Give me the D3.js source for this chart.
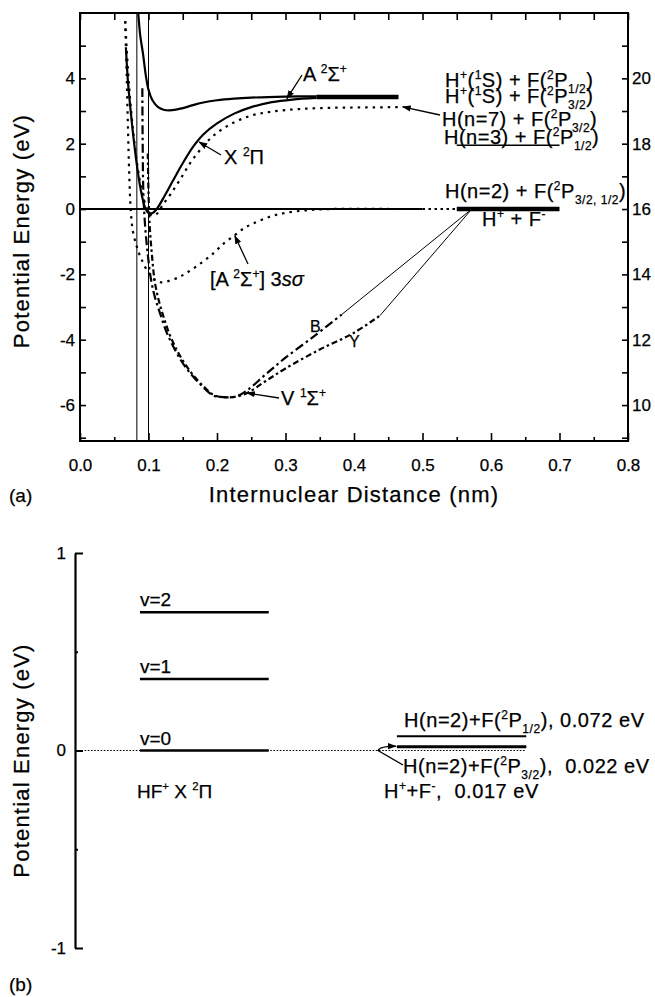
<!DOCTYPE html>
<html>
<head>
<meta charset="utf-8">
<script src="https://cdn.jsdelivr.net/npm/d3@7"></script>
<style>
  html, body { margin: 0; padding: 0; background: #fff; }
  svg { display: block; }
  text { font-family: "Liberation Sans", Arial, Helvetica, sans-serif; fill: #000; white-space: pre;
         stroke: #000; stroke-width: 0.25px; }
</style>
</head>
<body>
<svg id="fig" width="655" height="997"></svg>
<script>
// ---------- (a) potential energy curves of HF+ : [r (nm), E (eV)] ----------
const stateA2Sigma = [[0.085,6.0],[0.088,5.3],[0.092,4.75],[0.096,4.1],[0.1,3.65],[0.106,3.32],[0.114,3.12],[0.122,3.04],[0.13,3.02],[0.14,3.04],[0.15,3.09],[0.165,3.18],[0.18,3.26],[0.2,3.33],[0.225,3.38],[0.25,3.41],[0.3,3.44],[0.345,3.45]];
const stateX2Pi = [[0.067,4.95],[0.07,3.9],[0.074,3.0],[0.078,2.2],[0.084,1.2],[0.09,0.45],[0.095,0.05],[0.1,-0.12],[0.106,-0.12],[0.112,0.0],[0.124,0.42],[0.136,0.88],[0.15,1.4],[0.165,1.9],[0.18,2.28],[0.2,2.62],[0.225,2.92],[0.25,3.12],[0.28,3.27],[0.31,3.35],[0.345,3.4]];
const stateRydberg = [[0.066,5.75],[0.069,4.6],[0.073,3.4],[0.078,2.3],[0.084,1.3],[0.091,0.5],[0.098,0.0],[0.105,-0.2],[0.112,-0.15],[0.12,0.1],[0.132,0.45],[0.146,0.9],[0.16,1.38],[0.175,1.8],[0.195,2.25],[0.22,2.6],[0.25,2.86],[0.28,2.98],[0.32,3.06],[0.37,3.1],[0.42,3.11],[0.47,3.12]];
const state3sSigma = [[0.066,5.75],[0.068,4.2],[0.07,2.5],[0.072,1.0],[0.074,0.0],[0.077,-0.65],[0.083,-1.16],[0.09,-1.55],[0.1,-1.95],[0.108,-2.15],[0.117,-2.24],[0.13,-2.2],[0.145,-2.08],[0.156,-1.95],[0.175,-1.68],[0.195,-1.35],[0.21,-1.05],[0.226,-0.8],[0.24,-0.58],[0.253,-0.44],[0.275,-0.25],[0.297,-0.13],[0.33,-0.04],[0.365,0.0],[0.46,0.0]];
const stateV_B = [[0.091,3.7],[0.0915,2.0],[0.0925,0.5],[0.095,-0.5],[0.099,-1.4],[0.104,-2.2],[0.11,-2.75],[0.117,-3.2],[0.126,-3.75],[0.136,-4.2],[0.147,-4.62],[0.16,-5.0],[0.175,-5.35],[0.194,-5.7],[0.21,-5.76],[0.229,-5.73],[0.244,-5.55],[0.27,-5.08],[0.3,-4.55],[0.34,-3.92],[0.382,-3.23]];
const stateV_Y = [[0.099,1.7],[0.1,0.5],[0.102,-0.6],[0.105,-1.4],[0.109,-2.2],[0.115,-2.8],[0.122,-3.3],[0.131,-3.85],[0.141,-4.3],[0.152,-4.7],[0.165,-5.08],[0.18,-5.42],[0.196,-5.7],[0.21,-5.76],[0.229,-5.74],[0.245,-5.62],[0.27,-5.28],[0.3,-4.88],[0.35,-4.3],[0.399,-3.8],[0.438,-3.26]];
// straight continuations of B and Y to the H(n=2) + F / H+ + F- limit
const connectB = [[0.382,-3.23],[0.572,0.0]];
const connectY = [[0.438,-3.26],[0.572,0.0]];
// Franck-Condon region boundaries (nm)
const fcBounds = [0.083, 0.1];
// asymptote segments: [r start, r end, E]
const zeroSolid = [0.0, 0.50, 0.0];
const zeroDotted = [0.50, 0.55, 0.0];
const limitN2 = [0.55, 0.70, 0.0];
const limitN3 = [0.55, 0.70, 1.95];
const limitA = [0.345, 0.465, 3.43];

// axis ticks
const xTicks = [0,0.05,0.1,0.15,0.2,0.25,0.3,0.35,0.4,0.45,0.5,0.55,0.6,0.65,0.7,0.75,0.8];
const xTickLabels = ["0.0","0.1","0.2","0.3","0.4","0.5","0.6","0.7","0.8"];
const yTicks = [-7,-6,-5,-4,-3,-2,-1,0,1,2,3,4,5];
const yTickLabels = [-6,-4,-2,0,2,4];
const yRightTicks = [9,10,11,12,13,14,15,16,17,18,19,20,21];
const yRightTickLabels = [10,12,14,16,18,20];
const rightAxisOffset = 16; // eV, right axis = left axis + offset

// ---------- (b) levels near the HF+ X 2Pi v=0 ----------
const vibLevels = [["v=0",0.0],["v=1",0.362],["v=2",0.70]];
const limitLevels = [["H(n=2)+F(^{2}P_{1/2}), 0.072 eV",0.072],["H(n=2)+F(^{2}P_{3/2}),  0.022 eV",0.022],["H^{+}+F^{-},  0.017 eV",0.017]];
const bTicks = [-1,-0.5,0,0.5,1];
const bTickLabels = [-1,0,1];

// ================= drawing =================
const svg = d3.select("#fig");
const font = "Liberation Sans, Arial, Helvetica, sans-serif";

// arrowhead marker
svg.append("defs").append("marker")
  .attr("id","arrow").attr("viewBox","0 0 10 10").attr("refX",9).attr("refY",5)
  .attr("markerWidth",9).attr("markerHeight",9).attr("markerUnits","userSpaceOnUse")
  .attr("orient","auto")
  .append("path").attr("d","M0,1.5 L10,5 L0,8.5 Z").attr("fill","#000");

// text with ^{sup}, _{sub} and \i{italic} segments
function rich(sel, str, size) {
  const re = /(\^\{[^}]*\}|_\{[^}]*\}|\\i\{[^}]*\})/g;
  const parts = str.split(re).filter(s => s.length);
  let cur = 0;
  parts.forEach(p => {
    let kind = "n", t = p;
    if (p.startsWith("^{")) { kind = "sup"; t = p.slice(2,-1); }
    else if (p.startsWith("_{")) { kind = "sub"; t = p.slice(2,-1); }
    else if (p.startsWith("\\i{")) { kind = "it"; t = p.slice(3,-1); }
    const target = kind === "sup" ? -0.42*size : kind === "sub" ? 0.3*size : 0;
    const ts = sel.append("tspan").attr("dy", (target - cur).toFixed(2)).text(t);
    cur = target;
    if (kind === "sup" || kind === "sub") ts.attr("font-size", (size*0.6).toFixed(1));
    if (kind === "it") ts.attr("font-style","italic");
  });
  return sel;
}
function label(g, x, y, str, size, spacing) {
  const t = g.append("text").attr("x", x).attr("y", y).attr("font-size", size);
  if (spacing) t.attr("letter-spacing", spacing);
  return rich(t, str, size);
}

// ---------- panel (a) ----------
const A = { left: 80, right: 628, top: 13, bottom: 441 };
const x = d3.scaleLinear().domain([0, 0.8]).range([A.left, A.right]);
const y = d3.scaleLinear().domain([-7.1, 6.0]).range([A.bottom, A.top]);
const yR = d3.scaleLinear().domain([-7.1 + rightAxisOffset, 6.0 + rightAxisOffset]).range([A.bottom, A.top]);

const ga = svg.append("g");
const clip = svg.append("clipPath").attr("id","clipA");
clip.append("rect").attr("x",A.left).attr("y",A.top).attr("width",A.right-A.left).attr("height",A.bottom-A.top);

const plot = ga.append("g").attr("clip-path","url(#clipA)");
const line = d3.line().x(d => x(d[0])).y(d => y(d[1])).curve(d3.curveCatmullRom.alpha(0.5));
const straight = d3.line().x(d => x(d[0])).y(d => y(d[1]));

// Franck-Condon lines
plot.selectAll(".fc").data(fcBounds).join("line")
  .attr("x1", d => x(d)).attr("x2", d => x(d)).attr("y1", A.top).attr("y2", A.bottom)
  .attr("stroke","#000").attr("stroke-width",1);

// asymptotes
function seg(s, w, dash) {
  const p = plot.append("line").attr("x1", x(s[0])).attr("x2", x(s[1]))
    .attr("y1", y(s[2])).attr("y2", y(s[2])).attr("stroke","#000").attr("stroke-width", w);
  if (dash) p.attr("stroke-dasharray", dash);
  return p;
}
seg(zeroSolid, 2);
seg(zeroDotted, 2, "2.5,3.5");
seg(limitN2, 4.5);
seg(limitN3, 1.5);
seg(limitA, 4.5);

// curves
const curves = [
  { d: stateA2Sigma, w: 2.2, dash: null },
  { d: stateX2Pi, w: 2.2, dash: null },
  { d: stateRydberg, w: 2.2, dash: "2.5,5" },
  { d: state3sSigma, w: 2.2, dash: "2.5,5" },
  { d: stateV_B, w: 2.2, dash: "9,3.5,2.5,3.5" },
  { d: stateV_Y, w: 2.2, dash: "6,3,2.5,3" }
];
curves.forEach(c => {
  const p = plot.append("path").attr("d", line(c.d)).attr("fill","none")
    .attr("stroke","#000").attr("stroke-width", c.w).attr("stroke-linejoin","round");
  if (c.dash) p.attr("stroke-dasharray", c.dash);
});
[connectB, connectY].forEach(c => plot.append("path").attr("d", straight(c))
  .attr("fill","none").attr("stroke","#000").attr("stroke-width",1));

// frame
ga.append("rect").attr("x",A.left).attr("y",A.top).attr("width",A.right-A.left).attr("height",A.bottom-A.top)
  .attr("fill","none").attr("stroke","#000").attr("stroke-width",2);

// axes
function styleAxis(g, size) {
  g.select(".domain").remove();
  g.selectAll(".tick line").attr("stroke","#000").attr("stroke-width",1.6);
  g.selectAll("text").attr("font-size", size).attr("font-family", font).attr("fill","#000");
}
const major = v => Math.abs(Math.round(v*10) - v*10) < 1e-6;
const gxB = ga.append("g").attr("transform",`translate(0,${A.bottom})`)
  .call(d3.axisBottom(x).tickValues(xTicks).tickSizeInner(-8).tickSizeOuter(0).tickPadding(18)
    .tickFormat(d => { const i = xTickLabels.indexOf(d.toFixed(1)); return major(d) && i >= 0 ? xTickLabels[i] : ""; }));
styleAxis(gxB, 17);
gxB.selectAll(".tick line").attr("y2", d => major(d) ? -8 : -4);

const gxT = ga.append("g").attr("transform",`translate(0,${A.top})`)
  .call(d3.axisTop(x).tickValues(xTicks).tickSizeInner(-7).tickSizeOuter(0).tickFormat(""));
styleAxis(gxT, 17);

const gyL = ga.append("g").attr("transform",`translate(${A.left},0)`)
  .call(d3.axisLeft(y).tickValues(yTicks).tickSizeInner(-6).tickSizeOuter(0).tickPadding(5)
    .tickFormat(d => yTickLabels.includes(d) ? String(d) : ""));
styleAxis(gyL, 17);

const gyR = ga.append("g").attr("transform",`translate(${A.right},0)`)
  .call(d3.axisRight(yR).tickValues(yRightTicks).tickSizeInner(-6).tickSizeOuter(0).tickPadding(4)
    .tickFormat(d => yRightTickLabels.includes(d) ? String(d) : ""));
styleAxis(gyR, 17);

// axis titles
ga.append("text").attr("transform",`translate(29,${(y(-7.1)+y(6))/2 + 4}) rotate(-90)`)
  .attr("text-anchor","middle").attr("font-size",22).attr("letter-spacing",1.2).text("Potential Energy (eV)");
ga.append("text").attr("x",(A.left+A.right)/2).attr("y",502).attr("text-anchor","middle")
  .attr("font-size",22).attr("letter-spacing",1.2).text("Internuclear Distance (nm)");
ga.append("text").attr("x",9).attr("y",502).attr("font-size",19).text("(a)");

// curve labels and arrows
function arrow(g, x1, y1, x2, y2) {
  g.append("line").attr("x1",x1).attr("y1",y1).attr("x2",x2).attr("y2",y2)
    .attr("stroke","#000").attr("stroke-width",1.3).attr("marker-end","url(#arrow)");
}
label(ga, 303, 81, "A ^{2}Σ^{+}", 20);
arrow(ga, 302, 75, x(0.302), y(3.44) + 2);
label(ga, 224, 164, "X ^{2}Π", 20);
arrow(ga, 221, 155, x(0.171) + 2, y(2.05));
label(ga, 210, 286, "[A ^{2}Σ^{+}] 3\\i{sσ}", 20);
arrow(ga, 248, 264, x(0.226), y(-0.82));
label(ga, 281, 405, "V ^{1}Σ^{+}", 20);
arrow(ga, 279, 398, x(0.242) + 1, y(-5.6) + 1);
label(ga, 310, 332, "B", 16);
label(ga, 349, 347, "Y", 16);

// asymptotic limit labels
label(ga, 445, 87, "H^{+}(^{1}S) + F(^{2}P_{1/2})", 20, 0.5);
label(ga, 445, 103, "H^{+}(^{1}S) + F(^{2}P_{3/2})", 20, 0.5);
label(ga, 442, 126, "H(n=7) + F(^{2}P_{3/2})", 20, 0.5);
label(ga, 444, 144, "H(n=3) + F(^{2}P_{1/2})", 20, 0.5);
arrow(ga, 440, 115, x(0.471), y(3.13));
label(ga, 445, 198, "H(n=2) + F(^{2}P_{3/2, 1/2})", 20, 0.5);
label(ga, 482, 226, "H^{+} + F^{-}", 20, 0.5);

// ---------- panel (b) ----------
const B = { axis: 75, top: 553, bottom: 948, right: 655 };
const yB = d3.scaleLinear().domain([-1, 1]).range([B.bottom, B.top]);
const xB = d3.scaleLinear().domain([0, 1]).range([B.axis, B.right]);
const colHF = [0.112, 0.334];     // span of the HF+ vibrational levels
const colLimit = [0.555, 0.778];  // span of the dissociation limits

const gb = svg.append("g");
// zero-energy reference
gb.append("line").attr("x1", xB(0)).attr("x2", xB(colLimit[1])).attr("y1", yB(0)).attr("y2", yB(0))
  .attr("stroke","#000").attr("stroke-width",1.2).attr("stroke-dasharray","1.6,1.6");

gb.selectAll(".vib").data(vibLevels).join("line")
  .attr("x1", xB(colHF[0])).attr("x2", xB(colHF[1]))
  .attr("y1", d => yB(d[1])).attr("y2", d => yB(d[1]))
  .attr("stroke","#000").attr("stroke-width",2.4);
vibLevels.forEach(d => label(gb, xB(colHF[0]), yB(d[1]) - 6, d[0], 19));
label(gb, 137, 798, "HF^{+} X ^{2}Π", 19);

gb.selectAll(".lim").data(limitLevels).join("line")
  .attr("x1", xB(colLimit[0])).attr("x2", xB(colLimit[1]))
  .attr("y1", d => yB(d[1])).attr("y2", d => yB(d[1]))
  .attr("stroke","#000").attr("stroke-width",2);
label(gb, 404, 727, limitLevels[0][0], 20, 0.55);
label(gb, 403, 773, limitLevels[1][0], 20, 0.55);
label(gb, 384, 798, limitLevels[2][0], 20, 0.55);
// hooked pointer from the 0.022 eV label to its level
gb.append("path")
  .attr("d", `M403,765 L378,${yB(0.0)} Q380,${yB(0.022)} ${xB(colLimit[0]) - 1},${yB(0.022)}`)
  .attr("fill","none").attr("stroke","#000").attr("stroke-width",1.3).attr("marker-end","url(#arrow)");

const gyB = gb.append("g").attr("transform",`translate(${B.axis},0)`)
  .call(d3.axisLeft(yB).tickValues(bTicks).tickSizeInner(-8).tickSizeOuter(0).tickPadding(9)
    .tickFormat(d => bTickLabels.includes(d) ? String(d) : ""));
gyB.select(".domain").attr("stroke","#000").attr("stroke-width",2.2);
gyB.selectAll(".tick line").attr("stroke","#000").attr("stroke-width",2)
  .attr("x2", d => bTickLabels.includes(d) ? 8 : 3);
gyB.selectAll("text").attr("font-size",17).attr("font-family",font).attr("fill","#000");

gb.append("text").attr("transform",`translate(29,${(yB(-1)+yB(1))/2 + 10}) rotate(-90)`)
  .attr("text-anchor","middle").attr("font-size",22).attr("letter-spacing",1.2).text("Potential Energy (eV)");
gb.append("text").attr("x",9).attr("y",991).attr("font-size",19).text("(b)");
</script>
</body>
</html>
